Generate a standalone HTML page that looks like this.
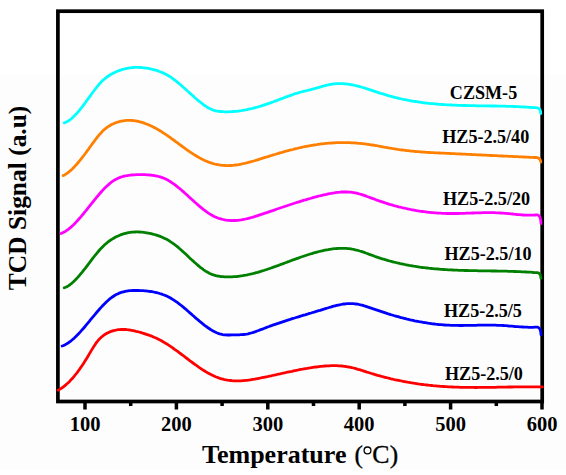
<!DOCTYPE html>
<html><head><meta charset="utf-8"><style>
html,body{margin:0;padding:0;background:#fff;}
body{width:566px;height:475px;overflow:hidden;position:relative;}
.bg{position:absolute;left:0;top:75px;width:566px;height:395px;background:#fdfdfd;}
svg{position:absolute;left:0;top:0;}
text{font-family:"Liberation Serif",serif;font-weight:bold;fill:#000;}
text.n{font-weight:normal;stroke:#000;stroke-width:0.35px;}
</style></head><body>
<div class="bg"></div>
<svg width="566" height="475" viewBox="0 0 566 475">
<rect x="57.9" y="11.2" width="484.3" height="390.3" fill="none" stroke="#000" stroke-width="3.7"/>
<g stroke="#000" stroke-width="3.5">
<line x1="85.0" y1="401" x2="85.0" y2="409.5"/>
<line x1="130.7" y1="401" x2="130.7" y2="406.0"/>
<line x1="176.4" y1="401" x2="176.4" y2="409.5"/>
<line x1="222.1" y1="401" x2="222.1" y2="406.0"/>
<line x1="267.8" y1="401" x2="267.8" y2="409.5"/>
<line x1="313.5" y1="401" x2="313.5" y2="406.0"/>
<line x1="359.2" y1="401" x2="359.2" y2="409.5"/>
<line x1="404.9" y1="401" x2="404.9" y2="406.0"/>
<line x1="450.6" y1="401" x2="450.6" y2="409.5"/>
<line x1="496.3" y1="401" x2="496.3" y2="406.0"/>
<line x1="542.0" y1="401" x2="542.0" y2="409.5"/>
</g>
<g fill="none" stroke-width="2.8" stroke-linejoin="round" stroke-linecap="round">
<path d="M64.2,122.8 L65.7,122.3 L67.2,121.6 L68.7,120.7 L70.2,119.7 L71.7,118.5 L73.2,117.1 L74.7,115.6 L76.2,114.1 L77.7,112.4 L79.2,110.6 L80.7,108.7 L82.2,106.8 L83.7,104.8 L85.2,102.8 L86.7,100.7 L88.2,98.7 L89.7,96.6 L91.2,94.5 L92.7,92.5 L94.2,90.5 L95.7,88.5 L97.2,86.6 L98.7,84.8 L100.2,83.1 L101.7,81.5 L103.2,80.1 L104.7,78.8 L106.2,77.6 L107.7,76.5 L109.2,75.5 L110.7,74.5 L112.2,73.7 L113.7,72.9 L115.2,72.2 L116.7,71.5 L118.2,70.9 L119.7,70.4 L121.2,69.9 L122.7,69.4 L124.2,69.0 L125.7,68.6 L127.2,68.3 L128.7,68.0 L130.2,67.8 L131.7,67.7 L133.2,67.5 L134.7,67.4 L136.2,67.4 L137.7,67.4 L139.2,67.4 L140.7,67.5 L142.2,67.6 L143.7,67.8 L145.2,68.0 L146.7,68.2 L148.2,68.4 L149.7,68.7 L151.2,69.1 L152.7,69.4 L154.2,69.8 L155.7,70.2 L157.2,70.7 L158.7,71.2 L160.2,71.8 L161.7,72.4 L163.2,73.0 L164.7,73.7 L166.2,74.5 L167.7,75.3 L169.2,76.2 L170.7,77.2 L172.2,78.2 L173.7,79.3 L175.2,80.4 L176.7,81.6 L178.2,82.8 L179.7,84.1 L181.2,85.3 L182.7,86.7 L184.2,88.0 L185.7,89.3 L187.2,90.7 L188.7,92.1 L190.2,93.4 L191.7,94.8 L193.2,96.1 L194.7,97.5 L196.2,98.8 L197.7,100.1 L199.2,101.3 L200.7,102.5 L202.2,103.7 L203.7,104.8 L205.2,105.9 L206.7,106.8 L208.2,107.8 L209.7,108.6 L211.2,109.3 L212.7,109.9 L214.2,110.4 L215.7,110.8 L217.2,111.1 L218.7,111.4 L220.2,111.5 L221.7,111.7 L223.2,111.7 L224.7,111.8 L226.2,111.8 L227.7,111.8 L229.2,111.8 L230.7,111.7 L232.2,111.7 L233.7,111.5 L235.2,111.4 L236.7,111.3 L238.2,111.1 L239.7,110.9 L241.2,110.7 L242.7,110.4 L244.2,110.2 L245.7,109.9 L247.2,109.6 L248.7,109.2 L250.2,108.9 L251.7,108.6 L253.2,108.2 L254.7,107.8 L256.2,107.4 L257.7,107.0 L259.2,106.5 L260.7,106.1 L262.2,105.6 L263.7,105.1 L265.2,104.6 L266.7,104.1 L268.2,103.6 L269.7,103.1 L271.2,102.6 L272.7,102.0 L274.2,101.5 L275.7,100.9 L277.2,100.4 L278.7,99.8 L280.2,99.2 L281.7,98.6 L283.2,98.1 L284.7,97.5 L286.2,96.9 L287.7,96.4 L289.2,95.8 L290.7,95.3 L292.2,94.8 L293.7,94.2 L295.2,93.7 L296.7,93.3 L298.2,92.8 L299.7,92.4 L301.2,92.0 L302.7,91.6 L304.2,91.2 L305.7,90.9 L307.2,90.5 L308.7,90.2 L310.2,89.8 L311.7,89.4 L313.2,89.0 L314.7,88.6 L316.2,88.2 L317.7,87.7 L319.2,87.3 L320.7,86.9 L322.2,86.4 L323.7,86.0 L325.2,85.6 L326.7,85.2 L328.2,84.9 L329.7,84.5 L331.2,84.3 L332.7,84.0 L334.2,83.8 L335.7,83.7 L337.2,83.6 L338.7,83.6 L340.2,83.6 L341.7,83.6 L343.2,83.7 L344.7,83.8 L346.2,83.9 L347.7,84.1 L349.2,84.3 L350.7,84.6 L352.2,84.9 L353.7,85.2 L355.2,85.5 L356.7,85.8 L358.2,86.2 L359.7,86.6 L361.2,87.0 L362.7,87.5 L364.2,87.9 L365.7,88.4 L367.2,88.8 L368.7,89.3 L370.2,89.8 L371.7,90.3 L373.2,90.8 L374.7,91.3 L376.2,91.8 L377.7,92.3 L379.2,92.8 L380.7,93.3 L382.2,93.7 L383.7,94.2 L385.2,94.7 L386.7,95.1 L388.2,95.6 L389.7,96.0 L391.2,96.4 L392.7,96.8 L394.2,97.2 L395.7,97.6 L397.2,97.9 L398.7,98.3 L400.2,98.6 L401.7,99.0 L403.2,99.3 L404.7,99.6 L406.2,99.9 L407.7,100.2 L409.2,100.5 L410.7,100.8 L412.2,101.0 L413.7,101.3 L415.2,101.5 L416.7,101.7 L418.2,102.0 L419.7,102.2 L421.2,102.4 L422.7,102.6 L424.2,102.8 L425.7,103.0 L427.2,103.1 L428.7,103.3 L430.2,103.5 L431.7,103.6 L433.2,103.7 L434.7,103.9 L436.2,104.0 L437.7,104.1 L439.2,104.3 L440.7,104.4 L442.2,104.5 L443.7,104.6 L445.2,104.7 L446.7,104.8 L448.2,104.8 L449.7,104.9 L451.2,105.0 L452.7,105.1 L454.2,105.1 L455.7,105.2 L457.2,105.3 L458.7,105.3 L460.2,105.4 L461.7,105.4 L463.2,105.5 L464.7,105.5 L466.2,105.5 L467.7,105.6 L469.2,105.6 L470.7,105.6 L472.2,105.7 L473.7,105.7 L475.2,105.7 L476.7,105.8 L478.2,105.8 L479.7,105.8 L481.2,105.8 L482.7,105.8 L484.2,105.9 L485.7,105.9 L487.2,105.9 L488.7,105.9 L490.2,106.0 L491.7,106.0 L493.2,106.0 L494.7,106.0 L496.2,106.0 L497.7,106.1 L499.2,106.1 L500.7,106.1 L502.2,106.2 L503.7,106.2 L505.2,106.2 L506.7,106.3 L508.2,106.3 L509.7,106.4 L511.2,106.4 L512.7,106.4 L514.2,106.5 L515.7,106.6 L517.2,106.6 L518.7,106.7 L520.2,106.8 L521.7,106.8 L523.2,106.9 L524.7,107.0 L526.2,107.1 L527.7,107.2 L529.2,107.3 L530.7,107.4 L532.2,107.5 L533.7,107.6 L535.2,107.7 L536.7,107.8 L537.5,107.9 Q540.5,108.4 540.8,113.5" stroke="#00ffff"/>
<path d="M63.2,175.6 L64.7,174.9 L66.2,173.9 L67.7,172.9 L69.2,171.7 L70.7,170.4 L72.2,169.0 L73.7,167.5 L75.2,165.9 L76.7,164.3 L78.2,162.5 L79.7,160.7 L81.2,158.8 L82.7,156.9 L84.2,155.0 L85.7,153.0 L87.2,150.9 L88.7,148.9 L90.2,146.8 L91.7,144.7 L93.2,142.7 L94.7,140.6 L96.2,138.7 L97.7,136.7 L99.2,134.9 L100.7,133.2 L102.2,131.6 L103.7,130.1 L105.2,128.8 L106.7,127.7 L108.2,126.6 L109.7,125.7 L111.2,124.8 L112.7,124.1 L114.2,123.4 L115.7,122.8 L117.2,122.2 L118.7,121.8 L120.2,121.4 L121.7,121.1 L123.2,120.8 L124.7,120.6 L126.2,120.4 L127.7,120.4 L129.2,120.4 L130.7,120.4 L132.2,120.5 L133.7,120.6 L135.2,120.8 L136.7,121.1 L138.2,121.4 L139.7,121.8 L141.2,122.2 L142.7,122.6 L144.2,123.1 L145.7,123.7 L147.2,124.3 L148.7,124.9 L150.2,125.6 L151.7,126.3 L153.2,127.0 L154.7,127.8 L156.2,128.6 L157.7,129.4 L159.2,130.3 L160.7,131.2 L162.2,132.2 L163.7,133.1 L165.2,134.1 L166.7,135.1 L168.2,136.2 L169.7,137.2 L171.2,138.3 L172.7,139.4 L174.2,140.5 L175.7,141.6 L177.2,142.7 L178.7,143.8 L180.2,144.9 L181.7,146.0 L183.2,147.1 L184.7,148.2 L186.2,149.3 L187.7,150.3 L189.2,151.4 L190.7,152.4 L192.2,153.4 L193.7,154.4 L195.2,155.3 L196.7,156.2 L198.2,157.1 L199.7,157.9 L201.2,158.8 L202.7,159.5 L204.2,160.2 L205.7,160.9 L207.2,161.5 L208.7,162.1 L210.2,162.6 L211.7,163.1 L213.2,163.6 L214.7,164.0 L216.2,164.3 L217.7,164.6 L219.2,164.9 L220.7,165.1 L222.2,165.3 L223.7,165.4 L225.2,165.5 L226.7,165.6 L228.2,165.6 L229.7,165.5 L231.2,165.5 L232.7,165.3 L234.2,165.2 L235.7,165.0 L237.2,164.8 L238.7,164.6 L240.2,164.3 L241.7,164.0 L243.2,163.7 L244.7,163.4 L246.2,163.0 L247.7,162.6 L249.2,162.2 L250.7,161.8 L252.2,161.4 L253.7,161.0 L255.2,160.5 L256.7,160.1 L258.2,159.6 L259.7,159.1 L261.2,158.7 L262.7,158.2 L264.2,157.7 L265.7,157.2 L267.2,156.8 L268.7,156.3 L270.2,155.8 L271.7,155.4 L273.2,154.9 L274.7,154.5 L276.2,154.0 L277.7,153.6 L279.2,153.1 L280.7,152.7 L282.2,152.3 L283.7,151.8 L285.2,151.4 L286.7,151.0 L288.2,150.6 L289.7,150.2 L291.2,149.8 L292.7,149.5 L294.2,149.1 L295.7,148.7 L297.2,148.4 L298.7,148.0 L300.2,147.7 L301.7,147.3 L303.2,147.0 L304.7,146.7 L306.2,146.4 L307.7,146.1 L309.2,145.8 L310.7,145.5 L312.2,145.3 L313.7,145.0 L315.2,144.8 L316.7,144.6 L318.2,144.3 L319.7,144.1 L321.2,143.9 L322.7,143.8 L324.2,143.6 L325.7,143.4 L327.2,143.3 L328.7,143.2 L330.2,143.1 L331.7,143.0 L333.2,142.9 L334.7,142.8 L336.2,142.7 L337.7,142.7 L339.2,142.6 L340.7,142.6 L342.2,142.6 L343.7,142.6 L345.2,142.6 L346.7,142.6 L348.2,142.7 L349.7,142.7 L351.2,142.8 L352.7,142.9 L354.2,142.9 L355.7,143.0 L357.2,143.2 L358.7,143.3 L360.2,143.4 L361.7,143.6 L363.2,143.7 L364.7,143.9 L366.2,144.1 L367.7,144.3 L369.2,144.5 L370.7,144.8 L372.2,145.0 L373.7,145.2 L375.2,145.5 L376.7,145.7 L378.2,146.0 L379.7,146.3 L381.2,146.5 L382.7,146.8 L384.2,147.1 L385.7,147.3 L387.2,147.6 L388.7,147.9 L390.2,148.1 L391.7,148.4 L393.2,148.6 L394.7,148.9 L396.2,149.1 L397.7,149.4 L399.2,149.6 L400.7,149.8 L402.2,150.0 L403.7,150.2 L405.2,150.4 L406.7,150.6 L408.2,150.7 L409.7,150.9 L411.2,151.1 L412.7,151.2 L414.2,151.4 L415.7,151.5 L417.2,151.6 L418.7,151.7 L420.2,151.9 L421.7,152.0 L423.2,152.1 L424.7,152.2 L426.2,152.3 L427.7,152.4 L429.2,152.5 L430.7,152.6 L432.2,152.6 L433.7,152.7 L435.2,152.8 L436.7,152.9 L438.2,152.9 L439.7,153.0 L441.2,153.1 L442.7,153.2 L444.2,153.2 L445.7,153.3 L447.2,153.4 L448.7,153.4 L450.2,153.5 L451.7,153.6 L453.2,153.7 L454.7,153.7 L456.2,153.8 L457.7,153.9 L459.2,153.9 L460.7,154.0 L462.2,154.1 L463.7,154.2 L465.2,154.2 L466.7,154.3 L468.2,154.4 L469.7,154.4 L471.2,154.5 L472.7,154.6 L474.2,154.7 L475.7,154.7 L477.2,154.8 L478.7,154.9 L480.2,154.9 L481.7,155.0 L483.2,155.1 L484.7,155.2 L486.2,155.2 L487.7,155.3 L489.2,155.4 L490.7,155.5 L492.2,155.5 L493.7,155.6 L495.2,155.7 L496.7,155.7 L498.2,155.8 L499.7,155.9 L501.2,156.0 L502.7,156.0 L504.2,156.1 L505.7,156.2 L507.2,156.2 L508.7,156.3 L510.2,156.4 L511.7,156.4 L513.2,156.5 L514.7,156.6 L516.2,156.6 L517.7,156.7 L519.2,156.8 L520.7,156.9 L522.2,156.9 L523.7,157.0 L525.2,157.1 L526.7,157.1 L528.2,157.2 L529.7,157.3 L531.2,157.3 L532.7,157.4 L534.2,157.5 L535.7,157.5 L537.2,157.6 L537.5,157.6 Q540.5,158.3 540.8,162.0" stroke="#ff8000"/>
<path d="M61.1,233.5 L62.6,232.8 L64.1,232.1 L65.6,231.2 L67.1,230.2 L68.6,229.1 L70.1,227.9 L71.6,226.6 L73.1,225.2 L74.6,223.7 L76.1,222.1 L77.6,220.5 L79.1,218.8 L80.6,217.1 L82.1,215.3 L83.6,213.5 L85.1,211.7 L86.6,209.8 L88.1,207.9 L89.6,206.0 L91.1,204.2 L92.6,202.3 L94.1,200.4 L95.6,198.6 L97.1,196.7 L98.6,195.0 L100.1,193.2 L101.6,191.5 L103.1,189.9 L104.6,188.3 L106.1,186.8 L107.6,185.4 L109.1,184.1 L110.6,182.8 L112.1,181.7 L113.6,180.7 L115.1,179.7 L116.6,178.9 L118.1,178.2 L119.6,177.6 L121.1,177.0 L122.6,176.6 L124.1,176.2 L125.6,175.8 L127.1,175.6 L128.6,175.3 L130.1,175.2 L131.6,175.0 L133.1,174.9 L134.6,174.8 L136.1,174.7 L137.6,174.7 L139.1,174.7 L140.6,174.7 L142.1,174.7 L143.6,174.7 L145.1,174.7 L146.6,174.8 L148.1,174.9 L149.6,175.0 L151.1,175.1 L152.6,175.3 L154.1,175.5 L155.6,175.8 L157.1,176.1 L158.6,176.5 L160.1,176.9 L161.6,177.4 L163.1,177.9 L164.6,178.6 L166.1,179.3 L167.6,180.0 L169.1,180.9 L170.6,181.8 L172.1,182.8 L173.6,183.8 L175.1,184.9 L176.6,186.1 L178.1,187.3 L179.6,188.5 L181.1,189.8 L182.6,191.1 L184.1,192.4 L185.6,193.8 L187.1,195.1 L188.6,196.5 L190.1,197.9 L191.6,199.2 L193.1,200.6 L194.6,202.0 L196.1,203.3 L197.6,204.6 L199.1,205.9 L200.6,207.2 L202.1,208.4 L203.6,209.6 L205.1,210.7 L206.6,211.8 L208.1,212.9 L209.6,213.9 L211.1,214.8 L212.6,215.6 L214.1,216.4 L215.6,217.1 L217.1,217.7 L218.6,218.3 L220.1,218.7 L221.6,219.2 L223.1,219.5 L224.6,219.8 L226.1,220.1 L227.6,220.3 L229.1,220.4 L230.6,220.5 L232.1,220.6 L233.6,220.5 L235.1,220.5 L236.6,220.4 L238.1,220.3 L239.6,220.1 L241.1,219.9 L242.6,219.6 L244.1,219.3 L245.6,219.0 L247.1,218.7 L248.6,218.3 L250.1,217.9 L251.6,217.5 L253.1,217.1 L254.6,216.6 L256.1,216.2 L257.6,215.7 L259.1,215.2 L260.6,214.7 L262.1,214.2 L263.6,213.7 L265.1,213.2 L266.6,212.7 L268.1,212.1 L269.6,211.6 L271.1,211.1 L272.6,210.6 L274.1,210.1 L275.6,209.5 L277.1,209.0 L278.6,208.5 L280.1,208.0 L281.6,207.5 L283.1,207.0 L284.6,206.5 L286.1,206.0 L287.6,205.5 L289.1,205.0 L290.6,204.5 L292.1,204.0 L293.6,203.5 L295.1,203.0 L296.6,202.5 L298.1,202.1 L299.6,201.6 L301.1,201.1 L302.6,200.7 L304.1,200.2 L305.6,199.8 L307.1,199.3 L308.6,198.9 L310.1,198.5 L311.6,198.0 L313.1,197.6 L314.6,197.2 L316.1,196.8 L317.6,196.4 L319.1,196.0 L320.6,195.7 L322.1,195.3 L323.6,194.9 L325.1,194.6 L326.6,194.3 L328.1,193.9 L329.6,193.6 L331.1,193.4 L332.6,193.1 L334.1,192.9 L335.6,192.6 L337.1,192.4 L338.6,192.3 L340.1,192.2 L341.6,192.0 L343.1,192.0 L344.6,192.0 L346.1,192.0 L347.6,192.0 L349.1,192.1 L350.6,192.2 L352.1,192.4 L353.6,192.6 L355.1,192.9 L356.6,193.2 L358.1,193.6 L359.6,194.0 L361.1,194.4 L362.6,194.9 L364.1,195.4 L365.6,195.9 L367.1,196.5 L368.6,197.0 L370.1,197.6 L371.6,198.1 L373.1,198.7 L374.6,199.2 L376.1,199.8 L377.6,200.3 L379.1,200.9 L380.6,201.4 L382.1,201.9 L383.6,202.4 L385.1,202.9 L386.6,203.3 L388.1,203.8 L389.6,204.3 L391.1,204.7 L392.6,205.1 L394.1,205.6 L395.6,206.0 L397.1,206.4 L398.6,206.8 L400.1,207.1 L401.6,207.5 L403.1,207.9 L404.6,208.2 L406.1,208.5 L407.6,208.9 L409.1,209.2 L410.6,209.5 L412.1,209.8 L413.6,210.0 L415.1,210.3 L416.6,210.6 L418.1,210.8 L419.6,211.1 L421.1,211.3 L422.6,211.5 L424.1,211.7 L425.6,211.9 L427.1,212.1 L428.6,212.3 L430.1,212.4 L431.6,212.6 L433.1,212.7 L434.6,212.8 L436.1,212.9 L437.6,213.1 L439.1,213.1 L440.6,213.2 L442.1,213.3 L443.6,213.4 L445.1,213.4 L446.6,213.5 L448.1,213.5 L449.6,213.5 L451.1,213.5 L452.6,213.5 L454.1,213.5 L455.6,213.5 L457.1,213.5 L458.6,213.5 L460.1,213.4 L461.6,213.4 L463.1,213.3 L464.6,213.3 L466.1,213.2 L467.6,213.2 L469.1,213.1 L470.6,213.1 L472.1,213.0 L473.6,213.0 L475.1,212.9 L476.6,212.9 L478.1,212.9 L479.6,212.8 L481.1,212.8 L482.6,212.7 L484.1,212.7 L485.6,212.7 L487.1,212.7 L488.6,212.7 L490.1,212.7 L491.6,212.7 L493.1,212.7 L494.6,212.7 L496.1,212.8 L497.6,212.8 L499.1,212.9 L500.6,213.0 L502.1,213.1 L503.6,213.2 L505.1,213.3 L506.6,213.4 L508.1,213.6 L509.6,213.7 L511.1,213.9 L512.6,214.0 L514.1,214.2 L515.6,214.3 L517.1,214.5 L518.6,214.6 L520.1,214.7 L521.6,214.9 L523.1,215.0 L524.6,215.1 L526.1,215.1 L527.6,215.2 L529.1,215.2 L530.6,215.2 L532.1,215.2 L533.6,215.1 L535.1,215.0 L536.6,214.9 L537.5,214.8 Q540.7,215.6 541.0,223.5" stroke="#ff00ff"/>
<path d="M64.2,287.8 L65.7,287.2 L67.2,286.5 L68.7,285.6 L70.2,284.5 L71.7,283.3 L73.2,282.0 L74.7,280.6 L76.2,279.0 L77.7,277.4 L79.2,275.7 L80.7,273.9 L82.2,272.1 L83.7,270.2 L85.2,268.3 L86.7,266.3 L88.2,264.3 L89.7,262.4 L91.2,260.4 L92.7,258.4 L94.2,256.5 L95.7,254.6 L97.2,252.8 L98.7,251.0 L100.2,249.3 L101.7,247.7 L103.2,246.2 L104.7,244.8 L106.2,243.5 L107.7,242.2 L109.2,241.1 L110.7,240.0 L112.2,239.1 L113.7,238.2 L115.2,237.3 L116.7,236.6 L118.2,235.9 L119.7,235.2 L121.2,234.6 L122.7,234.1 L124.2,233.7 L125.7,233.3 L127.2,232.9 L128.7,232.6 L130.2,232.4 L131.7,232.2 L133.2,232.1 L134.7,232.0 L136.2,231.9 L137.7,231.9 L139.2,232.0 L140.7,232.1 L142.2,232.2 L143.7,232.4 L145.2,232.6 L146.7,232.8 L148.2,233.1 L149.7,233.4 L151.2,233.7 L152.7,234.1 L154.2,234.5 L155.7,234.9 L157.2,235.4 L158.7,235.9 L160.2,236.4 L161.7,237.0 L163.2,237.7 L164.7,238.4 L166.2,239.1 L167.7,239.9 L169.2,240.8 L170.7,241.8 L172.2,242.8 L173.7,243.8 L175.2,245.0 L176.7,246.2 L178.2,247.4 L179.7,248.7 L181.2,250.0 L182.7,251.4 L184.2,252.7 L185.7,254.1 L187.2,255.5 L188.7,257.0 L190.2,258.4 L191.7,259.8 L193.2,261.1 L194.7,262.5 L196.2,263.8 L197.7,265.1 L199.2,266.4 L200.7,267.6 L202.2,268.7 L203.7,269.8 L205.2,270.8 L206.7,271.8 L208.2,272.6 L209.7,273.4 L211.2,274.1 L212.7,274.7 L214.2,275.2 L215.7,275.6 L217.2,276.0 L218.7,276.2 L220.2,276.5 L221.7,276.6 L223.2,276.7 L224.7,276.8 L226.2,276.9 L227.7,276.9 L229.2,276.9 L230.7,276.9 L232.2,276.8 L233.7,276.7 L235.2,276.6 L236.7,276.5 L238.2,276.3 L239.7,276.1 L241.2,275.9 L242.7,275.7 L244.2,275.4 L245.7,275.2 L247.2,274.9 L248.7,274.5 L250.2,274.2 L251.7,273.9 L253.2,273.5 L254.7,273.1 L256.2,272.7 L257.7,272.3 L259.2,271.8 L260.7,271.4 L262.2,270.9 L263.7,270.5 L265.2,270.0 L266.7,269.5 L268.2,269.0 L269.7,268.5 L271.2,268.0 L272.7,267.4 L274.2,266.9 L275.7,266.4 L277.2,265.8 L278.7,265.3 L280.2,264.7 L281.7,264.2 L283.2,263.6 L284.7,263.0 L286.2,262.5 L287.7,261.9 L289.2,261.4 L290.7,260.8 L292.2,260.2 L293.7,259.7 L295.2,259.1 L296.7,258.6 L298.2,258.1 L299.7,257.5 L301.2,257.0 L302.7,256.5 L304.2,256.0 L305.7,255.5 L307.2,255.0 L308.7,254.5 L310.2,254.0 L311.7,253.6 L313.2,253.1 L314.7,252.7 L316.2,252.3 L317.7,251.9 L319.2,251.5 L320.7,251.1 L322.2,250.8 L323.7,250.4 L325.2,250.1 L326.7,249.8 L328.2,249.6 L329.7,249.3 L331.2,249.1 L332.7,248.9 L334.2,248.7 L335.7,248.6 L337.2,248.5 L338.7,248.4 L340.2,248.3 L341.7,248.3 L343.2,248.3 L344.7,248.4 L346.2,248.4 L347.7,248.6 L349.2,248.7 L350.7,248.9 L352.2,249.2 L353.7,249.4 L355.2,249.8 L356.7,250.1 L358.2,250.5 L359.7,251.0 L361.2,251.4 L362.7,251.9 L364.2,252.4 L365.7,253.0 L367.2,253.5 L368.7,254.1 L370.2,254.6 L371.7,255.2 L373.2,255.7 L374.7,256.3 L376.2,256.8 L377.7,257.3 L379.2,257.8 L380.7,258.3 L382.2,258.8 L383.7,259.2 L385.2,259.7 L386.7,260.1 L388.2,260.6 L389.7,261.0 L391.2,261.4 L392.7,261.8 L394.2,262.2 L395.7,262.5 L397.2,262.9 L398.7,263.2 L400.2,263.6 L401.7,263.9 L403.2,264.2 L404.7,264.5 L406.2,264.8 L407.7,265.1 L409.2,265.4 L410.7,265.6 L412.2,265.9 L413.7,266.2 L415.2,266.4 L416.7,266.6 L418.2,266.8 L419.7,267.1 L421.2,267.3 L422.7,267.5 L424.2,267.6 L425.7,267.8 L427.2,268.0 L428.7,268.2 L430.2,268.3 L431.7,268.5 L433.2,268.6 L434.7,268.8 L436.2,268.9 L437.7,269.0 L439.2,269.1 L440.7,269.3 L442.2,269.4 L443.7,269.5 L445.2,269.6 L446.7,269.7 L448.2,269.8 L449.7,269.8 L451.2,269.9 L452.7,270.0 L454.2,270.1 L455.7,270.1 L457.2,270.2 L458.7,270.3 L460.2,270.3 L461.7,270.4 L463.2,270.4 L464.7,270.5 L466.2,270.5 L467.7,270.5 L469.2,270.6 L470.7,270.6 L472.2,270.6 L473.7,270.7 L475.2,270.7 L476.7,270.7 L478.2,270.8 L479.7,270.8 L481.2,270.8 L482.7,270.8 L484.2,270.9 L485.7,270.9 L487.2,270.9 L488.7,270.9 L490.2,270.9 L491.7,271.0 L493.2,271.0 L494.7,271.0 L496.2,271.0 L497.7,271.1 L499.2,271.1 L500.7,271.1 L502.2,271.1 L503.7,271.2 L505.2,271.2 L506.7,271.2 L508.2,271.3 L509.7,271.3 L511.2,271.4 L512.7,271.4 L514.2,271.5 L515.7,271.5 L517.2,271.6 L518.7,271.6 L520.2,271.7 L521.7,271.8 L523.2,271.8 L524.7,271.9 L526.2,272.0 L527.7,272.1 L529.2,272.2 L530.7,272.2 L532.2,272.3 L533.7,272.5 L535.2,272.6 L536.7,272.7 L537.5,272.7 Q540.7,273.3 541.0,278.3" stroke="#008000"/>
<path d="M62.1,346.0 L63.6,345.5 L65.1,344.8 L66.6,343.9 L68.1,343.0 L69.6,341.9 L71.1,340.8 L72.6,339.5 L74.1,338.2 L75.6,336.8 L77.1,335.3 L78.6,333.7 L80.1,332.1 L81.6,330.4 L83.1,328.7 L84.6,327.0 L86.1,325.2 L87.6,323.4 L89.1,321.6 L90.6,319.7 L92.1,317.9 L93.6,316.1 L95.1,314.3 L96.6,312.5 L98.1,310.8 L99.6,309.0 L101.1,307.4 L102.6,305.8 L104.1,304.2 L105.6,302.7 L107.1,301.3 L108.6,299.9 L110.1,298.7 L111.6,297.5 L113.1,296.5 L114.6,295.5 L116.1,294.6 L117.6,293.9 L119.1,293.2 L120.6,292.7 L122.1,292.2 L123.6,291.8 L125.1,291.4 L126.6,291.1 L128.1,290.9 L129.6,290.7 L131.1,290.6 L132.6,290.5 L134.1,290.5 L135.6,290.5 L137.1,290.5 L138.6,290.5 L140.1,290.6 L141.6,290.6 L143.1,290.7 L144.6,290.8 L146.1,290.9 L147.6,291.1 L149.1,291.3 L150.6,291.5 L152.1,291.7 L153.6,292.0 L155.1,292.3 L156.6,292.6 L158.1,293.0 L159.6,293.5 L161.1,293.9 L162.6,294.5 L164.1,295.0 L165.6,295.6 L167.1,296.3 L168.6,297.0 L170.1,297.8 L171.6,298.7 L173.1,299.6 L174.6,300.6 L176.1,301.6 L177.6,302.7 L179.1,303.8 L180.6,305.0 L182.1,306.2 L183.6,307.4 L185.1,308.7 L186.6,309.9 L188.1,311.3 L189.6,312.6 L191.1,313.9 L192.6,315.2 L194.1,316.5 L195.6,317.9 L197.1,319.2 L198.6,320.4 L200.1,321.7 L201.6,322.9 L203.1,324.1 L204.6,325.3 L206.1,326.4 L207.6,327.5 L209.1,328.5 L210.6,329.5 L212.1,330.4 L213.6,331.2 L215.1,332.0 L216.6,332.7 L218.1,333.3 L219.6,333.8 L221.1,334.2 L222.6,334.6 L224.1,334.8 L225.6,334.9 L227.1,335.0 L228.6,335.0 L230.1,335.0 L231.6,334.9 L233.1,334.9 L234.6,334.8 L236.1,334.8 L237.6,334.8 L239.1,334.8 L240.6,334.7 L242.1,334.7 L243.6,334.5 L245.1,334.3 L246.6,334.1 L248.1,333.8 L249.6,333.4 L251.1,333.0 L252.6,332.6 L254.1,332.1 L255.6,331.6 L257.1,331.0 L258.6,330.5 L260.1,329.9 L261.6,329.3 L263.1,328.8 L264.6,328.2 L266.1,327.6 L267.6,327.0 L269.1,326.5 L270.6,325.9 L272.1,325.4 L273.6,324.8 L275.1,324.3 L276.6,323.8 L278.1,323.3 L279.6,322.8 L281.1,322.3 L282.6,321.8 L284.1,321.3 L285.6,320.8 L287.1,320.3 L288.6,319.8 L290.1,319.4 L291.6,318.9 L293.1,318.4 L294.6,318.0 L296.1,317.5 L297.6,317.1 L299.1,316.6 L300.6,316.1 L302.1,315.7 L303.6,315.2 L305.1,314.8 L306.6,314.3 L308.1,313.9 L309.6,313.4 L311.1,313.0 L312.6,312.5 L314.1,312.1 L315.6,311.6 L317.1,311.2 L318.6,310.7 L320.1,310.3 L321.6,309.8 L323.1,309.3 L324.6,308.9 L326.1,308.4 L327.6,308.0 L329.1,307.5 L330.6,307.1 L332.1,306.6 L333.6,306.2 L335.1,305.8 L336.6,305.4 L338.1,305.1 L339.6,304.8 L341.1,304.5 L342.6,304.2 L344.1,304.0 L345.6,303.8 L347.1,303.7 L348.6,303.6 L350.1,303.6 L351.6,303.6 L353.1,303.7 L354.6,303.8 L356.1,304.0 L357.6,304.2 L359.1,304.5 L360.6,304.9 L362.1,305.2 L363.6,305.7 L365.1,306.1 L366.6,306.6 L368.1,307.1 L369.6,307.6 L371.1,308.1 L372.6,308.6 L374.1,309.2 L375.6,309.7 L377.1,310.2 L378.6,310.7 L380.1,311.2 L381.6,311.7 L383.1,312.2 L384.6,312.7 L386.1,313.2 L387.6,313.7 L389.1,314.1 L390.6,314.6 L392.1,315.0 L393.6,315.5 L395.1,315.9 L396.6,316.3 L398.1,316.7 L399.6,317.2 L401.1,317.6 L402.6,317.9 L404.1,318.3 L405.6,318.7 L407.1,319.1 L408.6,319.4 L410.1,319.8 L411.6,320.1 L413.1,320.4 L414.6,320.8 L416.1,321.1 L417.6,321.4 L419.1,321.7 L420.6,321.9 L422.1,322.2 L423.6,322.5 L425.1,322.7 L426.6,322.9 L428.1,323.2 L429.6,323.4 L431.1,323.6 L432.6,323.8 L434.1,324.0 L435.6,324.2 L437.1,324.3 L438.6,324.5 L440.1,324.6 L441.6,324.7 L443.1,324.9 L444.6,325.0 L446.1,325.1 L447.6,325.2 L449.1,325.2 L450.6,325.3 L452.1,325.3 L453.6,325.4 L455.1,325.4 L456.6,325.4 L458.1,325.4 L459.6,325.5 L461.1,325.5 L462.6,325.5 L464.1,325.4 L465.6,325.4 L467.1,325.4 L468.6,325.4 L470.1,325.4 L471.6,325.3 L473.1,325.3 L474.6,325.3 L476.1,325.3 L477.6,325.2 L479.1,325.2 L480.6,325.2 L482.1,325.2 L483.6,325.2 L485.1,325.1 L486.6,325.1 L488.1,325.1 L489.6,325.1 L491.1,325.1 L492.6,325.2 L494.1,325.2 L495.6,325.2 L497.1,325.3 L498.6,325.3 L500.1,325.4 L501.6,325.4 L503.1,325.5 L504.6,325.6 L506.1,325.7 L507.6,325.8 L509.1,326.0 L510.6,326.1 L512.1,326.2 L513.6,326.3 L515.1,326.5 L516.6,326.6 L518.1,326.7 L519.6,326.8 L521.1,326.9 L522.6,327.0 L524.1,327.1 L525.6,327.2 L527.1,327.2 L528.6,327.3 L530.1,327.3 L531.6,327.3 L533.1,327.3 L534.6,327.2 L536.1,327.2 L537.5,327.1 Q540.7,327.9 541.0,334.6" stroke="#0000ff"/>
<path d="M58.0,390.2 L59.5,389.4 L61.0,388.5 L62.5,387.5 L64.0,386.4 L65.5,385.1 L67.0,383.8 L68.5,382.4 L70.0,380.9 L71.5,379.3 L73.0,377.7 L74.5,375.9 L76.0,374.0 L77.5,372.1 L79.0,370.0 L80.5,367.9 L82.0,365.7 L83.5,363.4 L85.0,361.1 L86.5,358.7 L88.0,356.2 L89.5,353.6 L91.0,351.1 L92.5,348.6 L94.0,346.2 L95.5,343.9 L97.0,341.9 L98.5,340.0 L100.0,338.4 L101.5,337.0 L103.0,335.8 L104.5,334.7 L106.0,333.8 L107.5,333.0 L109.0,332.2 L110.5,331.6 L112.0,331.1 L113.5,330.6 L115.0,330.3 L116.5,330.0 L118.0,329.7 L119.5,329.6 L121.0,329.5 L122.5,329.4 L124.0,329.5 L125.5,329.5 L127.0,329.7 L128.5,329.8 L130.0,330.0 L131.5,330.3 L133.0,330.6 L134.5,330.9 L136.0,331.3 L137.5,331.6 L139.0,332.0 L140.5,332.4 L142.0,332.9 L143.5,333.3 L145.0,333.8 L146.5,334.3 L148.0,334.8 L149.5,335.4 L151.0,335.9 L152.5,336.5 L154.0,337.2 L155.5,337.8 L157.0,338.5 L158.5,339.3 L160.0,340.0 L161.5,340.8 L163.0,341.7 L164.5,342.6 L166.0,343.5 L167.5,344.4 L169.0,345.4 L170.5,346.4 L172.0,347.4 L173.5,348.5 L175.0,349.6 L176.5,350.6 L178.0,351.7 L179.5,352.9 L181.0,354.0 L182.5,355.1 L184.0,356.2 L185.5,357.4 L187.0,358.5 L188.5,359.6 L190.0,360.8 L191.5,361.9 L193.0,363.0 L194.5,364.1 L196.0,365.2 L197.5,366.2 L199.0,367.3 L200.5,368.3 L202.0,369.3 L203.5,370.3 L205.0,371.2 L206.5,372.1 L208.0,373.0 L209.5,373.8 L211.0,374.6 L212.5,375.3 L214.0,376.0 L215.5,376.7 L217.0,377.3 L218.5,377.9 L220.0,378.4 L221.5,378.8 L223.0,379.2 L224.5,379.6 L226.0,379.9 L227.5,380.2 L229.0,380.4 L230.5,380.5 L232.0,380.7 L233.5,380.8 L235.0,380.9 L236.5,380.9 L238.0,380.9 L239.5,380.8 L241.0,380.8 L242.5,380.7 L244.0,380.6 L245.5,380.4 L247.0,380.3 L248.5,380.1 L250.0,379.9 L251.5,379.6 L253.0,379.4 L254.5,379.2 L256.0,378.9 L257.5,378.6 L259.0,378.3 L260.5,378.0 L262.0,377.7 L263.5,377.4 L265.0,377.1 L266.5,376.8 L268.0,376.5 L269.5,376.2 L271.0,375.9 L272.5,375.5 L274.0,375.2 L275.5,374.9 L277.0,374.5 L278.5,374.2 L280.0,373.9 L281.5,373.5 L283.0,373.2 L284.5,372.9 L286.0,372.5 L287.5,372.2 L289.0,371.9 L290.5,371.6 L292.0,371.3 L293.5,370.9 L295.0,370.6 L296.5,370.3 L298.0,370.0 L299.5,369.7 L301.0,369.4 L302.5,369.2 L304.0,368.9 L305.5,368.6 L307.0,368.4 L308.5,368.1 L310.0,367.9 L311.5,367.6 L313.0,367.4 L314.5,367.2 L316.0,367.0 L317.5,366.8 L319.0,366.6 L320.5,366.4 L322.0,366.3 L323.5,366.1 L325.0,366.0 L326.5,365.9 L328.0,365.8 L329.5,365.8 L331.0,365.7 L332.5,365.7 L334.0,365.7 L335.5,365.7 L337.0,365.7 L338.5,365.8 L340.0,365.9 L341.5,366.0 L343.0,366.1 L344.5,366.3 L346.0,366.5 L347.5,366.8 L349.0,367.0 L350.5,367.3 L352.0,367.7 L353.5,368.0 L355.0,368.4 L356.5,368.8 L358.0,369.3 L359.5,369.7 L361.0,370.2 L362.5,370.6 L364.0,371.1 L365.5,371.6 L367.0,372.1 L368.5,372.5 L370.0,373.0 L371.5,373.5 L373.0,373.9 L374.5,374.4 L376.0,374.8 L377.5,375.3 L379.0,375.7 L380.5,376.1 L382.0,376.5 L383.5,376.9 L385.0,377.3 L386.5,377.7 L388.0,378.0 L389.5,378.4 L391.0,378.8 L392.5,379.1 L394.0,379.5 L395.5,379.8 L397.0,380.1 L398.5,380.4 L400.0,380.7 L401.5,381.0 L403.0,381.3 L404.5,381.6 L406.0,381.9 L407.5,382.2 L409.0,382.4 L410.5,382.7 L412.0,382.9 L413.5,383.2 L415.0,383.4 L416.5,383.6 L418.0,383.9 L419.5,384.1 L421.0,384.3 L422.5,384.5 L424.0,384.7 L425.5,384.8 L427.0,385.0 L428.5,385.2 L430.0,385.3 L431.5,385.5 L433.0,385.7 L434.5,385.8 L436.0,385.9 L437.5,386.1 L439.0,386.2 L440.5,386.3 L442.0,386.4 L443.5,386.5 L445.0,386.6 L446.5,386.7 L448.0,386.8 L449.5,386.9 L451.0,386.9 L452.5,387.0 L454.0,387.1 L455.5,387.1 L457.0,387.2 L458.5,387.2 L460.0,387.3 L461.5,387.3 L463.0,387.3 L464.5,387.4 L466.0,387.4 L467.5,387.4 L469.0,387.4 L470.5,387.4 L472.0,387.4 L473.5,387.4 L475.0,387.5 L476.5,387.5 L478.0,387.4 L479.5,387.4 L481.0,387.4 L482.5,387.4 L484.0,387.4 L485.5,387.4 L487.0,387.4 L488.5,387.4 L490.0,387.3 L491.5,387.3 L493.0,387.3 L494.5,387.3 L496.0,387.3 L497.5,387.2 L499.0,387.2 L500.5,387.2 L502.0,387.2 L503.5,387.1 L505.0,387.1 L506.5,387.1 L508.0,387.0 L509.5,387.0 L511.0,387.0 L512.5,387.0 L514.0,386.9 L515.5,386.9 L517.0,386.9 L518.5,386.9 L520.0,386.9 L521.5,386.8 L523.0,386.8 L524.5,386.8 L526.0,386.8 L527.5,386.8 L529.0,386.8 L530.5,386.8 L532.0,386.8 L533.5,386.8 L535.0,386.8 L536.5,386.8 L538.0,386.8 L539.5,386.8 L541.0,386.8 L542.4,386.9" stroke="#ff0000"/>
</g>
<g font-size="20.5" text-anchor="middle">
<text x="85.0" y="430.5">100</text>
<text x="176.4" y="430.5">200</text>
<text x="267.8" y="430.5">300</text>
<text x="359.2" y="430.5">400</text>
<text x="450.6" y="430.5">500</text>
<text x="542.0" y="430.5">600</text>
</g>
<text x="202" y="463" font-size="26">Temperature</text>
<g font-size="25.3">
<text class="n" x="354.5" y="463.4">(</text>
<text class="n" x="372.2" y="463.3" font-size="25.8">C</text>
<text class="n" x="389.8" y="463.4">)</text>
</g>
<circle cx="367.5" cy="450.4" r="3.4" fill="none" stroke="#000" stroke-width="1.3"/>
<text transform="translate(26.2,197.9) rotate(-90)" font-size="25.45" text-anchor="middle">TCD Signal (a.u)</text>
<g font-size="18.1" text-anchor="end">
<text x="517.2" y="98.9">CZSM-5</text>
<text x="529.2" y="143">HZ5-2.5/40</text>
<text x="530" y="205.2">HZ5-2.5/20</text>
<text x="531.5" y="260">HZ5-2.5/10</text>
<text x="521.9" y="317.2">HZ5-2.5/5</text>
<text x="522.9" y="380">HZ5-2.5/0</text>
</g>
</svg>
</body></html>
